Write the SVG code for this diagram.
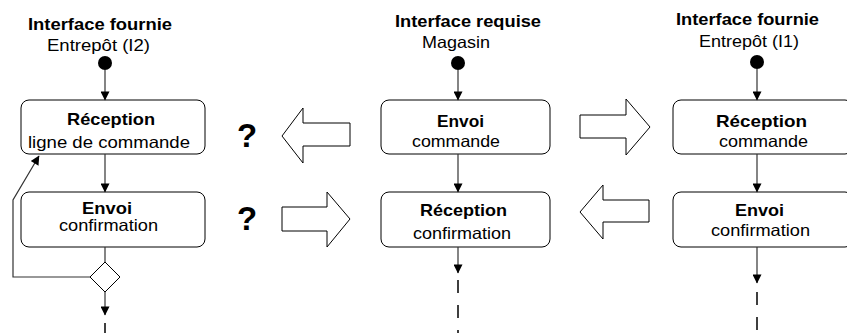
<svg xmlns="http://www.w3.org/2000/svg" width="847" height="333" viewBox="0 0 847 333">
<style>
text{font-family:"Liberation Sans",Arial,sans-serif;font-size:16.5px;fill:#000}
.b{font-weight:bold}
.q{font-weight:bold;font-size:33px;text-anchor:middle}
.box{fill:#fff;stroke:#000;stroke-width:1}
.ln{fill:none;stroke:#333;stroke-width:1.2}
.dash{fill:none;stroke:#000;stroke-width:1.5;stroke-dasharray:13 12}
.big{fill:#fff;stroke:#000;stroke-width:1}
.dot{fill:#000}
</style>
<defs>
<marker id="ah2" markerUnits="userSpaceOnUse" markerWidth="14" markerHeight="9" refX="9.5" refY="5" orient="auto" viewBox="0 0 10 10">
<path d="M0,0 L10,5 L0,10 Z" fill="#000"/>
</marker>
</defs>

<g id="titles">
<text class="b" x="28" y="30" textLength="144" lengthAdjust="spacingAndGlyphs">Interface fournie</text>
<text x="47" y="51" textLength="103" lengthAdjust="spacingAndGlyphs">Entrepôt (I2)</text>
<text class="b" x="395" y="27" textLength="146" lengthAdjust="spacingAndGlyphs">Interface requise</text>
<text x="422" y="48" textLength="68" lengthAdjust="spacingAndGlyphs">Magasin</text>
<text class="b" x="676" y="25" textLength="143" lengthAdjust="spacingAndGlyphs">Interface fournie</text>
<text x="699" y="47" textLength="100" lengthAdjust="spacingAndGlyphs">Entrepôt (I1)</text>
</g>

<g id="start-left"><circle class="dot" cx="105" cy="63" r="7"/></g>
<g id="start-mid"><circle class="dot" cx="458" cy="63" r="7"/></g>
<g id="start-right"><circle class="dot" cx="757" cy="62" r="7"/></g>

<g id="l-reception">
<rect class="box" x="21" y="100" width="184" height="54" rx="8"/>
<text class="b" x="67" y="125" textLength="88" lengthAdjust="spacingAndGlyphs">Réception</text>
<text x="28" y="148" textLength="162" lengthAdjust="spacingAndGlyphs">ligne de commande</text>
</g>
<g id="l-envoi">
<rect class="box" x="21" y="192" width="184" height="55" rx="8"/>
<text class="b" x="82" y="214" textLength="50" lengthAdjust="spacingAndGlyphs">Envoi</text>
<text x="59" y="231" textLength="99" lengthAdjust="spacingAndGlyphs">confirmation</text>
</g>
<g id="l-decision">
<polygon class="big" points="105,262 120,277 105,292 90,277"/>
</g>

<g id="m-envoi">
<rect class="box" x="381" y="100" width="169" height="54" rx="8"/>
<text class="b" x="437" y="127" textLength="47" lengthAdjust="spacingAndGlyphs">Envoi</text>
<text x="412" y="147" textLength="88" lengthAdjust="spacingAndGlyphs">commande</text>
</g>
<g id="m-reception">
<rect class="box" x="381" y="192" width="169" height="55" rx="8"/>
<text class="b" x="420" y="216" textLength="87" lengthAdjust="spacingAndGlyphs">Réception</text>
<text x="413" y="239" textLength="98" lengthAdjust="spacingAndGlyphs">confirmation</text>
</g>

<g id="r-reception">
<rect class="box" x="673" y="100" width="180" height="54" rx="8"/>
<text class="b" x="716" y="127" textLength="91" lengthAdjust="spacingAndGlyphs">Réception</text>
<text x="719" y="147" textLength="89" lengthAdjust="spacingAndGlyphs">commande</text>
</g>
<g id="r-envoi">
<rect class="box" x="673" y="192" width="180" height="55" rx="8"/>
<text class="b" x="735" y="216" textLength="49" lengthAdjust="spacingAndGlyphs">Envoi</text>
<text x="711" y="236" textLength="99" lengthAdjust="spacingAndGlyphs">confirmation</text>
</g>

<g id="questions">
<text class="q" x="247" y="147">?</text>
<text class="q" x="247" y="230">?</text>
</g>

<g id="big-arrows">
<polygon class="big" points="282,136 303,108 303,123 350,123 350,146 303,146 303,163"/>
<polygon class="big" points="350,219 327,192 327,207 282,207 282,231 327,231 327,247"/>
<polygon class="big" points="650,127 626,99 626,115 580,115 580,138 626,138 626,155"/>
<polygon class="big" points="580,212 603,185 603,200 649,200 649,222 603,222 603,239"/>
</g>

<g id="connectors">
<line class="ln" x1="105" y1="70" x2="105" y2="100" marker-end="url(#ah2)"/>
<line class="ln" x1="105" y1="154" x2="105" y2="192" marker-end="url(#ah2)"/>
<line class="ln" x1="105" y1="247" x2="105" y2="262"/>
<line class="ln" x1="105" y1="292" x2="105" y2="315" marker-end="url(#ah2)"/>
<line class="dash" x1="105" y1="323" x2="105" y2="340"/>
<polyline class="ln" points="90,277 13,277 13,200 39,156" marker-end="url(#ah2)"/>

<line class="ln" x1="458" y1="70" x2="458" y2="100" marker-end="url(#ah2)"/>
<line class="ln" x1="458" y1="154" x2="458" y2="192" marker-end="url(#ah2)"/>
<line class="ln" x1="458" y1="247" x2="458" y2="273" marker-end="url(#ah2)"/>
<line class="dash" x1="458" y1="280" x2="458" y2="333"/>

<line class="ln" x1="757" y1="69" x2="757" y2="100" marker-end="url(#ah2)"/>
<line class="ln" x1="757" y1="154" x2="757" y2="192" marker-end="url(#ah2)"/>
<line class="ln" x1="757" y1="247" x2="757" y2="283" marker-end="url(#ah2)"/>
<line class="dash" x1="757" y1="292" x2="757" y2="333"/>
</g>
</svg>
